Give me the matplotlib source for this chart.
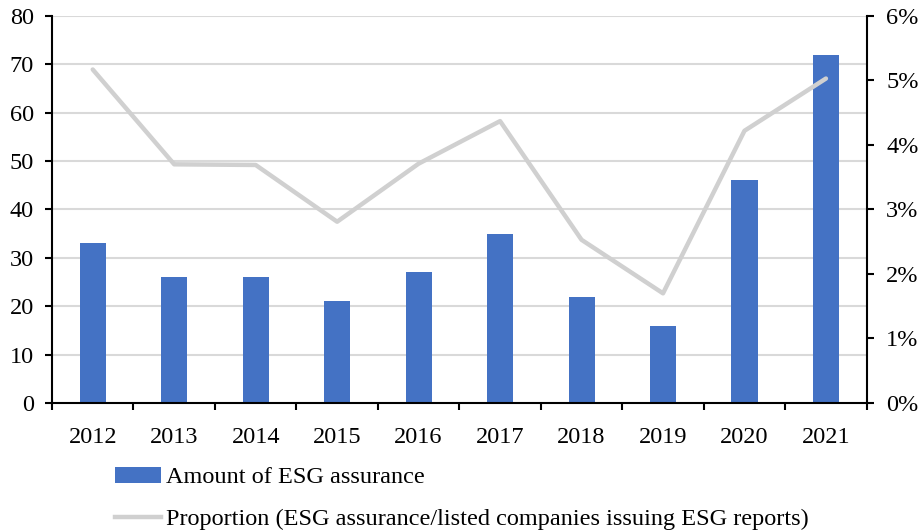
import matplotlib
matplotlib.use("Agg")
import matplotlib.pyplot as plt
from matplotlib.patches import Patch
from matplotlib.lines import Line2D
import numpy as np

years = ["2012", "2013", "2014", "2015", "2016", "2017", "2018", "2019", "2020", "2021"]
assurance_amount = [33, 26, 26, 21, 27, 35, 22, 16, 46, 72]
assurance_proportion = [5.17, 3.70, 3.69, 2.81, 3.71, 4.37, 2.53, 1.70, 4.22, 5.03]
left_ticks = [0, 10, 20, 30, 40, 50, 60, 70, 80]
right_ticks = [0, 1, 2, 3, 4, 5, 6]

bar_color = "#4472C4"
line_color = "#D0D0D0"
grid_color = "#D9D9D9"

plt.rcParams["font.family"] = ["Liberation Serif", "DejaVu Serif"]
plt.rcParams["font.size"] = 17.5

fig = plt.figure(figsize=(9.22, 5.32), dpi=100)
ax = fig.add_axes([0.0564, 0.2425, 0.8836, 0.7275])
x = np.arange(len(years))

ax.bar(x, assurance_amount, width=0.32, color=bar_color, zorder=2)
ax.set_xlim(-0.5, len(years) - 0.5)
ax.set_ylim(0, 80)
ax.set_yticks(left_ticks)
for v in left_ticks[1:]:
    ax.axhline(v, color=grid_color, lw=1.5, zorder=0)

ax.set_xticks(x)
ax.set_xticklabels(years)
ax.set_xticks(np.arange(-0.5, len(years)), minor=True)
ax.tick_params(axis="x", which="major", length=0, pad=17)
ax.tick_params(axis="x", which="minor", length=5, width=1.5, direction="out")
ax.tick_params(axis="y", length=5, width=1.5, direction="out", pad=8)

ax.spines["top"].set_visible(False)
ax.spines["right"].set_visible(False)
ax.spines["left"].set_linewidth(1.5)
ax.spines["bottom"].set_linewidth(1.5)

ax2 = ax.twinx()
ax2.plot(x, assurance_proportion, color=line_color, lw=3.2, zorder=3,
         solid_capstyle="round")
ax2.set_ylim(0, 6)
ax2.set_yticks(right_ticks)
ax2.set_yticklabels([f"{t}%" for t in right_ticks])
ax2.tick_params(axis="y", length=5, width=1.5, direction="out", pad=9)
ax2.spines["top"].set_visible(False)
ax2.spines["left"].set_visible(False)
ax2.spines["bottom"].set_visible(False)
ax2.spines["right"].set_linewidth(1.5)

handles = [Patch(facecolor=bar_color, edgecolor="none"),
           Line2D([0], [0], color=line_color, lw=3.2)]
labels = ["Amount of ESG assurance",
          "Proportion (ESG assurance/listed companies issuing ESG reports)"]
fig.legend(handles, labels, loc="upper left", bbox_to_anchor=(0.1247, 0.1225),
           frameon=False, handlelength=1.9, handleheight=0.62,
           handletextpad=0.2, labelspacing=0.85, borderaxespad=0,
           borderpad=0)

fig.savefig("out.png", dpi=100)
